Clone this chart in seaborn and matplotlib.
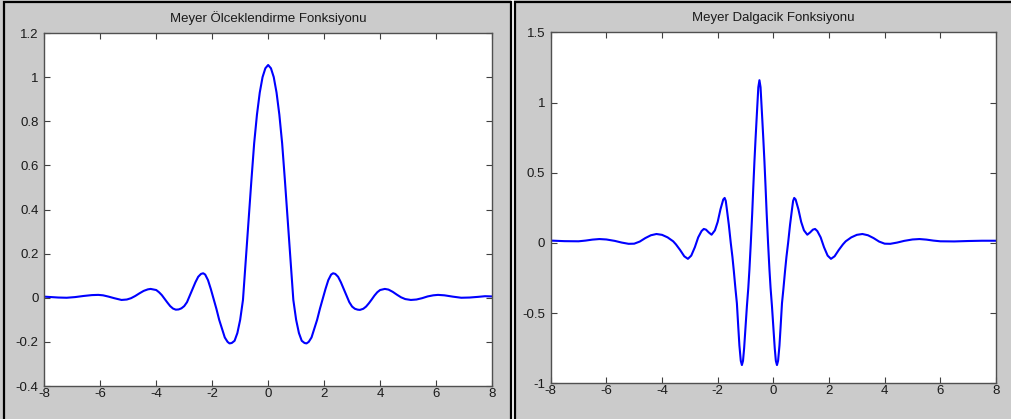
import matplotlib
matplotlib.use("Agg")
import matplotlib.pyplot as plt
from matplotlib.patches import Rectangle
import seaborn as sns

# ---- data ----
phi_x = [-8.0, -7.75, -7.5, -7.2, -6.9, -6.6, -6.3, -6.07, -5.9, -5.7, -5.5, -5.24, -5.05, -4.9,
         -4.75, -4.6, -4.45, -4.3, -4.2, -4.0, -3.9, -3.8, -3.7, -3.6, -3.5, -3.4, -3.3, -3.2,
         -3.1, -3.0, -2.9, -2.8, -2.7, -2.6, -2.5, -2.4, -2.32, -2.25, -2.15, -2.05, -1.95,
         -1.85, -1.75, -1.65, -1.55, -1.45, -1.38, -1.3, -1.2, -1.1, -1.0, -0.9, -0.8, -0.7,
         -0.6, -0.5, -0.4, -0.3, -0.2, -0.1, 0.0,
         0.1, 0.2, 0.3, 0.4, 0.5, 0.6, 0.7, 0.8, 0.9, 1.0, 1.1, 1.2, 1.3, 1.37, 1.45, 1.55,
         1.65, 1.75, 1.85, 1.95, 2.05, 2.15, 2.25, 2.32, 2.4, 2.5, 2.6, 2.7, 2.8, 2.9, 3.0,
         3.1, 3.2, 3.28, 3.4, 3.5, 3.6, 3.7, 3.8, 3.9, 4.0, 4.17, 4.3, 4.45, 4.6, 4.75, 4.9,
         5.1, 5.3, 5.5, 5.7, 5.9, 6.07, 6.3, 6.6, 6.9, 7.2, 7.5, 7.75, 8.0]
phi_y = [0.005, 0.003, 0.001, 0.0, 0.003, 0.008, 0.012, 0.013, 0.011, 0.005, -0.002, -0.010,
         -0.008, -0.002, 0.008, 0.020, 0.031, 0.038, 0.040, 0.035, 0.025, 0.012, -0.005,
         -0.022, -0.038, -0.049, -0.054, -0.053, -0.048, -0.038, -0.020, 0.010, 0.040, 0.070,
         0.095, 0.108, 0.111, 0.105, 0.080, 0.040, -0.005, -0.050, -0.100, -0.140, -0.180,
         -0.200, -0.207, -0.205, -0.195, -0.160, -0.100, -0.010, 0.170, 0.350, 0.530, 0.700,
         0.830, 0.930, 1.000, 1.040, 1.055,
         1.040, 1.000, 0.930, 0.830, 0.700, 0.530, 0.350, 0.170, -0.010, -0.100, -0.160,
         -0.195, -0.205, -0.207, -0.200, -0.180, -0.140, -0.100, -0.050, -0.005, 0.040,
         0.080, 0.105, 0.111, 0.108, 0.095, 0.070, 0.040, 0.010, -0.020, -0.040, -0.050,
         -0.054, -0.055, -0.050, -0.040, -0.025, -0.008, 0.010, 0.025, 0.035, 0.040, 0.037,
         0.027, 0.014, 0.002, -0.006, -0.010, -0.008, -0.002, 0.006, 0.011, 0.013, 0.011,
         0.005, 0.000, 0.001, 0.004, 0.007, 0.006]

psi_x = [-8.0, -7.5, -7.0, -6.75, -6.5, -6.25, -6.0, -5.7, -5.45, -5.2, -5.0, -4.8, -4.6,
         -4.4, -4.2, -4.0, -3.8, -3.6, -3.5, -3.35, -3.2, -3.07, -2.95, -2.82, -2.7, -2.58,
         -2.5, -2.42, -2.32, -2.22, -2.1, -2.0, -1.9, -1.8, -1.75, -1.71, -1.67, -1.6, -1.53,
         -1.47, -1.42, -1.36, -1.31, -1.26, -1.22, -1.17, -1.13, -1.09, -1.05, -1.0, -0.95,
         -0.9, -0.86, -0.81, -0.76, -0.72, -0.68, -0.64, -0.6, -0.57, -0.54, -0.5,
         -0.46, -0.43, -0.4, -0.36, -0.32, -0.28, -0.24, -0.19, -0.14, -0.1, -0.05, 0.0,
         0.05, 0.09, 0.13, 0.17, 0.22, 0.26, 0.31, 0.36, 0.42, 0.47, 0.53, 0.6, 0.67, 0.71,
         0.75, 0.8, 0.9, 1.0, 1.1, 1.22, 1.32, 1.42, 1.5, 1.58, 1.7, 1.82, 1.95, 2.07, 2.2,
         2.35, 2.5, 2.6, 2.8, 3.0, 3.2, 3.4, 3.6, 3.8, 4.0, 4.2, 4.45, 4.7, 5.0, 5.25, 5.5,
         5.75, 6.0, 6.5, 7.0, 7.5, 8.0]
psi_y = [0.017, 0.013, 0.012, 0.017, 0.024, 0.028, 0.025, 0.015, 0.003, -0.006, -0.005,
         0.010, 0.035, 0.055, 0.064, 0.058, 0.040, 0.012, -0.010, -0.050, -0.095, -0.113,
         -0.090, -0.030, 0.040, 0.085, 0.100, 0.095, 0.075, 0.059, 0.090, 0.150, 0.240, 0.310,
         0.321, 0.300, 0.240, 0.130, 0.000, -0.100, -0.200, -0.330, -0.430, -0.600, -0.730,
         -0.840, -0.870, -0.840, -0.750, -0.600, -0.450, -0.320, -0.190, 0.000, 0.210, 0.400,
         0.580, 0.740, 0.890, 1.000, 1.110, 1.160,
         1.110, 1.000, 0.890, 0.740, 0.580, 0.400, 0.210, 0.000, -0.190, -0.320, -0.450,
         -0.600, -0.750, -0.840, -0.870, -0.840, -0.730, -0.600, -0.430, -0.330, -0.200,
         -0.100, 0.000, 0.130, 0.240, 0.300, 0.321, 0.310, 0.240, 0.150, 0.090, 0.059, 0.075,
         0.095, 0.100, 0.085, 0.040, -0.030, -0.090, -0.113, -0.095, -0.050, -0.010, 0.012,
         0.040, 0.058, 0.064, 0.055, 0.035, 0.010, -0.005, -0.006, 0.003, 0.015, 0.025,
         0.028, 0.024, 0.017, 0.012, 0.011, 0.014, 0.016, 0.016]

titles = ["Meyer Ölceklendirme Fonksiyonu", "Meyer Dalgacik Fonksiyonu"]
x_ticks = [-8, -6, -4, -2, 0, 2, 4, 6, 8]
phi_yticks = [-0.4, -0.2, 0, 0.2, 0.4, 0.6, 0.8, 1, 1.2]
psi_yticks = [-1, -0.5, 0, 0.5, 1, 1.5]

# ---- styling ----
sns.set_style("ticks")
plt.rcParams["font.family"] = ["Liberation Sans", "DejaVu Sans"]

W, H = 1012, 419
BG = "#cbcbcb"
fig = plt.figure(figsize=(W / 100, H / 100), dpi=100)
fig.patch.set_facecolor(BG)

# screenshot frames
fig.add_artist(Rectangle((511 / W, 0), 3 / W, 1, transform=fig.transFigure,
                         facecolor="white", edgecolor="none", zorder=0))
for (x0, x1) in [(4, 511), (515, 1013)]:
    fig.add_artist(Rectangle((x0 / W, -0.05), (x1 - x0) / W, (H - 2.5) / H + 0.05,
                             transform=fig.transFigure, facecolor="none",
                             edgecolor="black", linewidth=1.6, zorder=5))

def frac(l, r, t, b):
    return [l / W, (H - b) / H, (r - l) / W, (b - t) / H]

ax1 = fig.add_axes(frac(44.3, 492, 33, 386))
ax2 = fig.add_axes(frac(550.7, 996, 32.5, 383.3))

panels = [
    (ax1, phi_x, phi_y, titles[0], phi_yticks, (-0.4, 1.2)),
    (ax2, psi_x, psi_y, titles[1], psi_yticks, (-1, 1.5)),
]
for ax, xs, ys, title, yt, yl in panels:
    sns.lineplot(x=xs, y=ys, ax=ax, color="#0000ff", linewidth=1.5,
                 estimator=None, sort=False)
    ax.set_facecolor("white")
    ax.set_xlim(-8, 8)
    ax.set_ylim(*yl)
    ax.set_xticks(x_ticks)
    ax.set_xticklabels([str(v) for v in x_ticks])
    ax.set_yticks(yt)
    ax.set_yticklabels([("%g" % v) for v in yt])
    ax.tick_params(direction="in", length=4, width=0.8, colors="#404040",
                   labelcolor="#1a1a1a", labelsize=9.5, top=True, right=True,
                   pad=4)
    ax.tick_params(axis="x", pad=1.5)
    for s in ax.spines.values():
        s.set_visible(True)
        s.set_color("#505050")
        s.set_linewidth(1.0)
    ax.set_title(title, fontsize=9.5, color="#1a1a1a", pad=8)
    ax.set_xlabel("")
    ax.set_ylabel("")

fig.savefig("out.png", dpi=100, facecolor=BG)
